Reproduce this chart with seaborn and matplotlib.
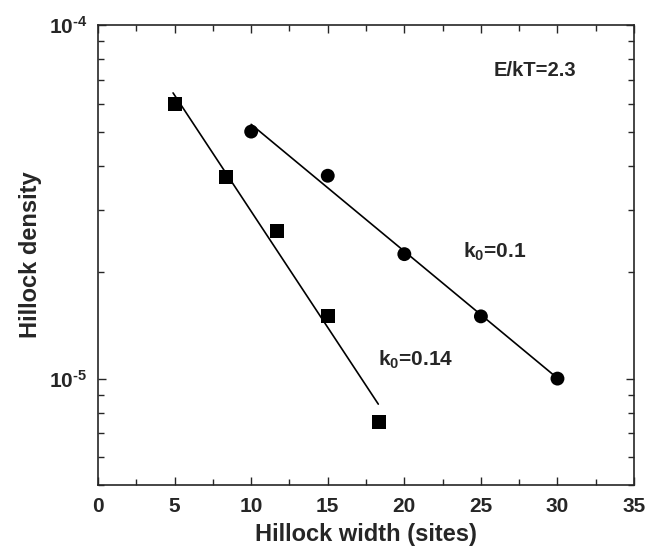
import numpy as np
import pandas as pd
import matplotlib
matplotlib.use('Agg')
import matplotlib.pyplot as plt
import seaborn as sns
from matplotlib.ticker import LogLocator, NullFormatter, MultipleLocator, FuncFormatter

# data
sq_x = [5, 8.33, 11.67, 15, 18.33]
sq_y = [5.97e-5, 3.72e-5, 2.62e-5, 1.50e-5, 7.55e-6]
ci_x = [10, 15, 20, 25, 30]
ci_y = [5.0e-5, 3.75e-5, 2.25e-5, 1.5e-5, 1.0e-5]

sns.set_theme(style='ticks')
plt.rcParams['font.family'] = ['Liberation Sans', 'DejaVu Sans']
plt.rcParams['font.weight'] = 'bold'
plt.rcParams['axes.unicode_minus'] = False
plt.rcParams['mathtext.fontset'] = 'custom'
plt.rcParams['mathtext.bf'] = 'Liberation Sans:bold'
plt.rcParams['mathtext.rm'] = 'Liberation Sans:bold'
plt.rcParams['mathtext.default'] = 'bf'

df = pd.DataFrame({
    'x': sq_x + ci_x,
    'y': sq_y + ci_y,
    'set': ['k0=0.14'] * len(sq_x) + ['k0=0.1'] * len(ci_x),
})

fig = plt.figure(figsize=(6.47, 5.48), dpi=100)
ax = fig.add_axes([0.1515, 0.115, 0.8285, 0.839])

# exponential fits (straight lines on log axis)
for xs, ys, x0, x1 in [(sq_x, sq_y, 4.9, 18.3), (ci_x, ci_y, 10, 30)]:
    p = np.polyfit(xs, np.log10(ys), 1)
    fx = np.array([x0, x1])
    ax.plot(fx, 10 ** np.polyval(p, fx), color='black', lw=1.2, zorder=2)

sns.scatterplot(data=df, x='x', y='y', style='set', markers={'k0=0.14': 's', 'k0=0.1': 'o'},
                color='black', s=100, edgecolor='none', legend=False, ax=ax, zorder=3)

ax.set_yscale('log')
ax.set_xlim(0, 35)
ax.set_ylim(5e-6, 1e-4)
ax.xaxis.set_major_locator(MultipleLocator(5))
ax.xaxis.set_minor_locator(MultipleLocator(2.5))
ax.yaxis.set_major_locator(LogLocator(base=10, numticks=10))
ax.yaxis.set_major_formatter(FuncFormatter(
    lambda v, pos: r'$\mathbf{10^{\text{-}%d}}$' % abs(round(np.log10(v)))))
ax.yaxis.set_minor_locator(LogLocator(base=10, subs=np.arange(2, 10), numticks=20))
ax.yaxis.set_minor_formatter(NullFormatter())

ax.tick_params(which='both', direction='in', top=True, right=True, labelsize=15, width=1)
ax.tick_params(which='major', length=6)
ax.tick_params(which='minor', length=4)
ax.tick_params(axis='x', pad=9)
ax.tick_params(axis='y', pad=8)
for lab in ax.get_xticklabels() + ax.get_yticklabels():
    lab.set_fontweight('bold')
for s in ax.spines.values():
    s.set_linewidth(1.2)

ax.set_xlabel('Hillock width (sites)', fontsize=17, fontweight='bold', labelpad=5)
ax.set_ylabel('Hillock density', fontsize=17, fontweight='bold', labelpad=5)

ax.text(28.5, 7.45e-5, 'E/kT=2.3', fontsize=14.5, fontweight='bold', ha='center', va='center')
ax.text(23.8, 2.28e-5, r'k$_0$=0.1', fontsize=15, fontweight='bold', ha='left', va='center')
ax.text(18.3, 1.13e-5, r'k$_0$=0.14', fontsize=15, fontweight='bold', ha='left', va='center')

fig.savefig('out.png', dpi=100)
